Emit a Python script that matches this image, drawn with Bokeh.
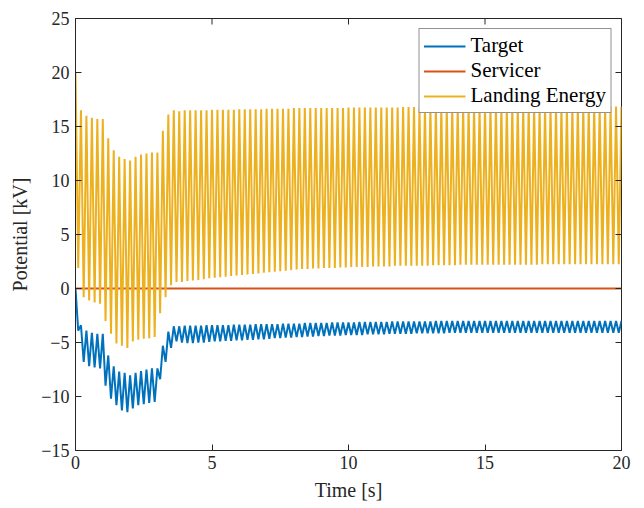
import math
from bokeh.plotting import figure
from bokeh.models import Range1d, FixedTicker, Legend, LegendItem
from bokeh.embed import file_html
from bokeh.resources import INLINE

# sample times (s), one sample every 0.1 s (peaks on even tenths, troughs on odd tenths)
time_s = [round(0.1 * i, 1) for i in range(201)]

# Target potential [kV]
target_kv = [
    0.0, -3.9, -3.4, -6.8, -3.9, -7.2, -4.1, -7.3, -4.2, -7.4,            # 0.x
    -4.2, -9.0, -6.2, -10.2, -7.2, -10.8, -7.7, -11.3, -7.8, -11.45,      # 1.x
    -8.05, -11.1, -7.8, -10.8, -7.65, -10.7, -7.5, -10.6, -7.4, -10.5,    # 2.x
    -7.4, -8.4, -5.3, -6.8, -4.0, -5.5, -3.5, -4.9, -3.5, -5.0,           # 3.x
    -3.45, -5.05, -3.45, -5.05, -3.45, -5.0, -3.45, -5.0, -3.4, -4.95,    # 4.x
    -3.4, -4.9, -3.4, -4.9, -3.4, -4.85, -3.4, -4.85, -3.35, -4.8,        # 5.x
    -3.35, -4.8, -3.35, -4.75, -3.35, -4.75, -3.3, -4.7, -3.3, -4.7,      # 6.x
    -3.3, -4.65, -3.3, -4.6, -3.3, -4.6, -3.25, -4.55, -3.25, -4.55,      # 7.x
    -3.25, -4.5, -3.25, -4.5, -3.2, -4.45, -3.2, -4.45, -3.2, -4.4,       # 8.x
    -3.2, -4.4, -3.2, -4.35, -3.15, -4.35, -3.15, -4.35, -3.15, -4.3,     # 9.x
    -3.15, -4.3, -3.15, -4.3, -3.1, -4.3, -3.1, -4.25, -3.1, -4.25,       # 10.x
    -3.1, -4.25, -3.1, -4.25, -3.1, -4.2, -3.05, -4.2, -3.05, -4.2,       # 11.x
    -3.05, -4.2, -3.05, -4.2, -3.05, -4.15, -3.05, -4.15, -3.05, -4.15,   # 12.x
    -3.05, -4.15, -3.0, -4.15, -3.0, -4.15, -3.0, -4.1, -3.0, -4.1,       # 13.x
    -3.0, -4.1, -3.0, -4.1, -3.0, -4.1, -3.0, -4.1, -3.0, -4.1,           # 14.x
    -3.0, -4.1, -3.0, -4.1, -3.0, -4.1, -3.0, -4.1, -3.0, -4.1,           # 15.x
    -3.0, -4.1, -3.0, -4.1, -3.0, -4.1, -3.0, -4.1, -3.0, -4.1,           # 16.x
    -3.0, -4.1, -3.0, -4.1, -3.0, -4.1, -3.0, -4.1, -3.0, -4.1,           # 17.x
    -3.0, -4.1, -3.0, -4.1, -3.0, -4.1, -3.0, -4.1, -3.0, -4.1,           # 18.x
    -3.0, -4.1, -3.0, -4.1, -3.0, -4.1, -3.0, -4.1, -3.0, -4.1,           # 19.x
    -3.0,                                                                 # 20.0
]

# Servicer potential [kV]: flat at 0 for the whole run
servicer_kv = [0.0 for _ in time_s]

# Landing energy [keV]
landing_kev = [
    20.0, 1.9, 16.5, -0.8, 16.0, -1.1, 15.8, -1.3, 15.7, -1.4,            # 0.x
    15.7, -3.0, 13.9, -4.2, 12.8, -5.1, 12.2, -5.3, 12.0, -5.5,           # 1.x
    11.85, -4.9, 12.2, -4.75, 12.4, -4.65, 12.5, -4.6, 12.6, -4.5,        # 2.x
    12.6, -2.3, 14.6, -0.8, 16.1, 0.3, 16.5, 0.6, 16.4, 0.6,              # 3.x
    16.5, 0.7, 16.5, 0.75, 16.5, 0.8, 16.5, 0.85, 16.5, 0.95,             # 4.x
    16.55, 1.0, 16.55, 1.05, 16.55, 1.1, 16.55, 1.15, 16.55, 1.2,         # 5.x
    16.6, 1.25, 16.6, 1.3, 16.6, 1.35, 16.6, 1.4, 16.6, 1.45,             # 6.x
    16.65, 1.5, 16.65, 1.55, 16.65, 1.6, 16.65, 1.65, 16.65, 1.7,         # 7.x
    16.7, 1.75, 16.7, 1.8, 16.7, 1.8, 16.7, 1.85, 16.7, 1.85,             # 8.x
    16.7, 1.9, 16.7, 1.9, 16.7, 1.9, 16.7, 1.95, 16.7, 1.95,              # 9.x
    16.75, 2.0, 16.75, 2.0, 16.75, 2.0, 16.75, 2.0, 16.75, 2.05,          # 10.x
    16.75, 2.05, 16.75, 2.05, 16.75, 2.05, 16.75, 2.1, 16.75, 2.1,        # 11.x
    16.8, 2.1, 16.8, 2.1, 16.8, 2.1, 16.8, 2.1, 16.8, 2.1,                # 12.x
    16.8, 2.15, 16.8, 2.15, 16.8, 2.15, 16.8, 2.15, 16.8, 2.15,           # 13.x
    16.8, 2.2, 16.8, 2.2, 16.8, 2.2, 16.8, 2.2, 16.8, 2.2,                # 14.x
    16.85, 2.2, 16.85, 2.2, 16.85, 2.2, 16.85, 2.2, 16.85, 2.2,           # 15.x
    16.85, 2.2, 16.85, 2.2, 16.85, 2.2, 16.85, 2.2, 16.85, 2.2,           # 16.x
    16.85, 2.25, 16.85, 2.25, 16.85, 2.25, 16.85, 2.25, 16.85, 2.25,      # 17.x
    16.85, 2.25, 16.85, 2.25, 16.85, 2.25, 16.85, 2.25, 16.85, 2.25,      # 18.x
    16.85, 2.25, 16.85, 2.25, 16.85, 2.25, 16.85, 2.25, 16.85, 2.25,      # 19.x
    16.85,                                                                # 20.0
]

series_labels = ["Target", "Servicer", "Landing Energy"]
x_ticks = [0, 5, 10, 15, 20]
y_ticks = [-15, -10, -5, 0, 5, 10, 15, 20, 25]
x_lim = (0, 20)
y_lim = (-15, 25)

FONT = "Liberation Serif"
AX = "#262626"

p = figure(width=644, height=508, output_backend="svg", toolbar_location=None,
           x_range=Range1d(*x_lim), y_range=Range1d(*y_lim),
           min_border_left=75, min_border_right=23, min_border_top=18, min_border_bottom=58)
p.background_fill_color = "white"
p.border_fill_color = "white"
p.outline_line_color = AX
p.outline_line_width = 1
p.xgrid.visible = False
p.ygrid.visible = False

LW = 2.0
r1 = p.line(time_s, target_kv, line_color="#0072BD", line_width=LW)
r2 = p.line(time_s, servicer_kv, line_color="#D95319", line_width=LW)
r3 = p.line(time_s, landing_kev, line_color="#EDB120", line_width=LW)

# inward ticks on the top and right edges of the box (half of each dash is clipped by the frame)
p.scatter(x_ticks, [y_lim[1]] * len(x_ticks), marker="dash", size=12, angle=math.pi / 2,
          line_color=AX, line_width=1)
p.scatter([x_lim[1]] * len(y_ticks), y_ticks, marker="dash", size=12,
          line_color=AX, line_width=1)

for ax in (p.xaxis[0], p.yaxis[0]):
    ax.axis_line_color = AX
    ax.major_tick_line_color = AX
    ax.major_tick_in = 6
    ax.major_tick_out = 0
    ax.minor_tick_line_color = None
    ax.major_label_text_font = FONT
    ax.major_label_text_color = AX
    ax.major_label_text_font_size = "18px"
    ax.axis_label_text_font = FONT
    ax.axis_label_text_font_style = "normal"
    ax.axis_label_text_font_size = "20px"
    ax.axis_label_text_color = AX

p.xaxis.ticker = FixedTicker(ticks=x_ticks)
p.yaxis.ticker = FixedTicker(ticks=y_ticks)
p.xaxis.axis_label = "Time [s]"
p.yaxis.axis_label = "Potential [kV]"
p.xaxis.major_label_standoff = 5
p.yaxis.major_label_standoff = 6
p.xaxis.axis_label_standoff = 7
p.yaxis.axis_label_standoff = 7

legend = Legend(items=[LegendItem(label=series_labels[0], renderers=[r1]),
                       LegendItem(label=series_labels[1], renderers=[r2]),
                       LegendItem(label=series_labels[2], renderers=[r3])],
                location="top_right")
legend.margin = 10
legend.padding = 4
legend.spacing = 0
legend.glyph_width = 42
legend.glyph_height = 20
legend.label_height = 20
legend.label_standoff = 5
legend.label_text_font = FONT
legend.label_text_font_size = "21px"
legend.label_text_color = "black"
legend.border_line_color = AX
legend.border_line_width = 1
legend.background_fill_color = "white"
legend.background_fill_alpha = 1
p.add_layout(legend, "center")

open("out.html", "w").write(file_html(p, INLINE))
